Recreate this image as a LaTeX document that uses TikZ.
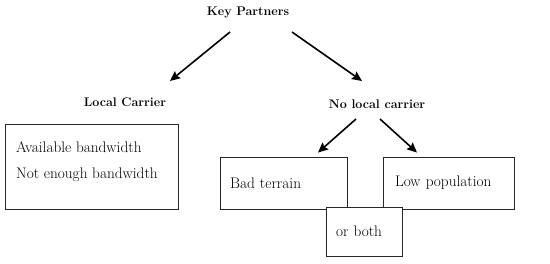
\documentclass[tikz,border=0pt]{standalone}
\usepackage{tikz}
\usetikzlibrary{positioning}
\usetikzlibrary{arrows.meta}

\tikzset{
  heading/.style={font=\fontsize{12.5}{15}\selectfont\bfseries, inner sep=0pt},
  boxtext/.style={font=\fontsize{15.3}{26}\selectfont, inner sep=0pt},
  casebox/.style={draw=black!85, line width=0.9pt, fill=white, align=left,
    font=\fontsize{15.3}{26}\selectfont, inner xsep=0pt},
  branch/.style={line width=1.6pt, -{Stealth[length=10pt, width=9pt, inset=1.5pt]}}
}

\begin{document}
\begin{tikzpicture}[x=1pt, y=-1pt]
  \useasboundingbox (0,0) rectangle (550,263);

  %---------------------------------------
  % Headings
  %---------------------------------------
  \node[heading] (partners) at (248,12) {Key Partners};
  \node[heading] (local)    at (125,102) {Local Carrier};
  \node[heading] (nolocal)  at (377,104) {No local carrier};

  %---------------------------------------
  % Boxes
  %---------------------------------------
  % Local carrier case
  \node[casebox, minimum width=173pt, minimum height=85pt] (bandbox) at (91.5,166.5) {};
  \node[boxtext, align=left, anchor=north west] (bandtext) at (16,141)
       {Available bandwidth\\Not enough bandwidth};

  % No local carrier cases
  \node[casebox, text width=107pt, minimum height=52pt, inner xsep=10pt] (terrain)
       at (283.5,183) {Bad terrain};
  \node[casebox, text width=107pt, minimum height=52pt, inner xsep=12pt] (population)
       at (448.5,183) {Low population};
  \node[casebox, text width=56pt, minimum height=49pt, inner xsep=10pt] (both)
       at (364,231.5) {or both};

  %---------------------------------------
  % Arrows
  %---------------------------------------
  \draw[branch] ([shift={(-18,20)}]partners.center) -- ([shift={(45,-21)}]local.center);
  \draw[branch] ([shift={(44,20)}]partners.center) -- ([shift={(-15,-23)}]nolocal.center);
  \draw[branch] ([shift={(-21,15)}]nolocal.center) -- ([shift={(34.5,-4)}]terrain.north);
  \draw[branch] ([shift={(3,15)}]nolocal.center) -- ([shift={(-31.5,-4)}]population.north);
\end{tikzpicture}
\end{document}
